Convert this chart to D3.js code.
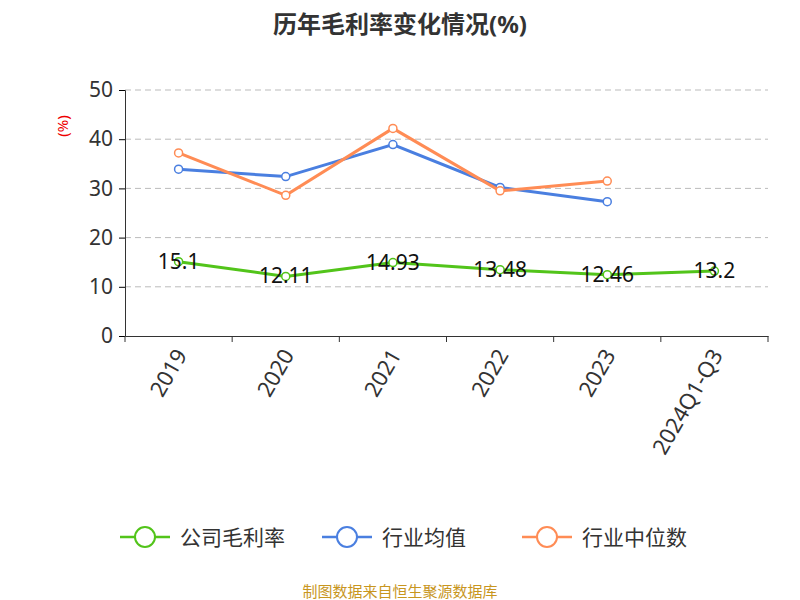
<!DOCTYPE html><html><head><meta charset="utf-8"><script src="https://cdn.jsdelivr.net/npm/d3@7"></script>
<style>body{margin:0;background:#fff}text{font-family:"Noto Sans","Noto Sans CJK SC",sans-serif}</style></head><body>
<svg id="c" width="800" height="600"></svg>
<script>
const categories=["2019","2020","2021","2022","2023","2024Q1-Q3"];
const company=[15.1,12.11,14.93,13.48,12.46,13.2];
const industryAvg=[33.9,32.4,38.9,30.2,27.3];
const industryMedian=[37.2,28.6,42.2,29.5,31.5];
const yTicks=[0,10,20,30,40,50];
const seriesNames=["公司毛利率","行业均值","行业中位数"];
const colors=["#52c41a","#4a7fe0","#ff8c55"];
const svg=d3.select("#c");
const x=d3.scaleBand().domain(categories).range([125,768]);
const y=d3.scaleLinear().domain([0,50]).range([336,90]);
svg.append("text").attr("x",400).attr("y",33).attr("text-anchor","middle").attr("font-size",24).attr("font-weight","bold").attr("fill","#333").text("历年毛利率变化情况(%)");
yTicks.forEach(t=>{if(t>0)svg.append("line").attr("x1",125).attr("x2",768).attr("y1",y(t)).attr("y2",y(t)).attr("stroke","#bbb").attr("stroke-dasharray","6,4");});
const ya=svg.append("g").attr("transform","translate(125,0)").call(d3.axisLeft(y).tickValues(yTicks).tickSize(6).tickPadding(6));
ya.select(".domain").attr("stroke","#333");ya.selectAll("text").attr("font-size",21).attr("fill","#333");
const xa=svg.append("g").attr("transform","translate(0,336)").call(d3.axisBottom(x).tickSize(0).tickFormat(""));
xa.select(".domain").attr("stroke","#333");
d3.range(categories.length+1).forEach(i=>{const px=125+i*x.bandwidth();svg.append("line").attr("x1",px).attr("x2",px).attr("y1",336).attr("y2",342).attr("stroke","#333");});
categories.forEach(c=>{const cx=x(c)+x.bandwidth()/2;svg.append("text").attr("transform",`translate(${cx+4},352) rotate(-60)`).attr("text-anchor","end").attr("dominant-baseline","middle").attr("font-size",22).attr("fill","#333").text(c);});
svg.append("text").attr("transform","translate(68,126) rotate(-90)").attr("text-anchor","middle").attr("font-size",15).attr("fill","#e00").text("(%)");
const cx=(d,i)=>x(categories[i])+x.bandwidth()/2;
[[company,0],[industryAvg,1],[industryMedian,2]].forEach(([data,k])=>{
 svg.append("path").datum(data).attr("fill","none").attr("stroke",colors[k]).attr("stroke-width",3).attr("d",d3.line().x(cx).y(d=>y(d)));
 svg.selectAll(null).data(data).enter().append("circle").attr("cx",cx).attr("cy",d=>y(d)).attr("r",4).attr("fill","#fff").attr("stroke",colors[k]).attr("stroke-width",1.5);
});
company.forEach((d,i)=>svg.append("text").attr("x",cx(d,i)).attr("y",y(d)+7).attr("text-anchor","middle").attr("font-size",21).attr("fill","#111").text(d));
const lx=[120,322,522];
seriesNames.forEach((n,k)=>{const g=svg.append("g").attr("transform",`translate(${lx[k]},537)`);
 g.append("line").attr("x1",0).attr("x2",50).attr("stroke",colors[k]).attr("stroke-width",2.5);
 g.append("circle").attr("cx",25).attr("r",10).attr("fill","#fff").attr("stroke",colors[k]).attr("stroke-width",2);
 g.append("text").attr("x",60).attr("y",8).attr("font-size",21).attr("fill","#333").text(n);});
svg.append("text").attr("x",400).attr("y",597).attr("text-anchor","middle").attr("font-size",15).attr("fill","#c8961e").text("制图数据来自恒生聚源数据库");
</script></body></html>
